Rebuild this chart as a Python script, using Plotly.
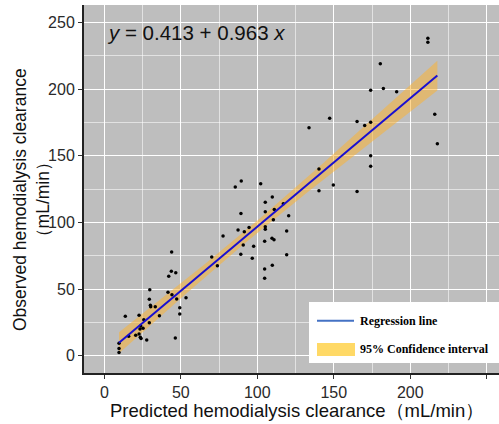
import numpy as np
import plotly.graph_objects as go

# Predicted (x) and observed (y) hemodialysis clearance, mL/min
predicted = [211.5, 211.5, 180.4, 174.1, 182.4, 191.1, 147.3, 133.8, 165.2, 170.2,
             174.1, 216.0, 217.7, 174.1, 174.1, 140.3, 149.7, 140.3, 165.2,
             89.5, 85.6, 102.2, 109.8, 105.2, 117.0, 89.3, 105.2, 111.1, 120.5, 110.5,
             94.6, 87.4, 91.5, 105.2, 105.2, 119.2, 77.6, 104.8, 109.6, 110.9,
             90.8, 97.6, 89.2, 119.2, 96.7, 70.2, 73.9, 104.8, 109.8, 104.8,
             44.0, 43.8, 46.7, 42.1, 29.7, 29.4, 41.6, 44.2, 47.3, 53.4,
             30.1, 30.3, 33.3, 49.3, 49.3, 36.0, 13.7, 22.7, 29.4, 25.8,
             25.3, 23.8, 23.3, 20.5, 22.7, 23.5, 24.0, 15.9, 27.7, 46.4,
             9.6, 9.6, 9.6]
observed = [238.0, 235.0, 219.0, 199.0, 200.4, 198.0, 178.0, 171.0, 175.7, 172.7,
            175.0, 181.0, 159.0, 150.0, 142.0, 140.0, 128.0, 123.7, 123.2,
            131.0, 126.5, 129.0, 119.0, 115.0, 114.0, 106.7, 108.0, 109.7, 105.0, 102.0,
            96.2, 94.2, 93.0, 96.7, 94.8, 93.5, 89.7, 85.8, 88.0, 87.0,
            83.0, 82.0, 76.0, 75.7, 73.0, 74.0, 67.5, 65.0, 67.8, 58.0,
            77.7, 63.3, 62.2, 59.5, 49.5, 42.3, 47.5, 45.7, 42.5, 43.5,
            37.8, 36.7, 36.7, 36.0, 31.3, 30.0, 29.5, 30.3, 24.7, 27.0,
            20.5, 22.3, 20.0, 15.3, 16.3, 13.8, 12.8, 14.5, 11.8, 13.3,
            9.3, 5.3, 2.3]

intercept = 0.413
slope = 0.963
equation_text = "<i>y</i> = 0.413 + 0.963 <i>x</i>"

x_ticks = [0, 50, 100, 150, 200, 250]
y_ticks = [0, 50, 100, 150, 200, 250]

legend_labels = ["Regression line", "95% Confidence interval"]

x_title = "Predicted hemodialysis clearance（mL/min）"
y_title = "Observed hemodialysis clearance<br>（mL/min）"

# ---- fit band (95% CI of mean) ----
xa = np.array(predicted)
ya = np.array(observed)
n = len(xa)
fit_obs = intercept + slope * xa
s = np.sqrt(np.sum((ya - fit_obs) ** 2) / (n - 2))
xbar = xa.mean()
sxx = np.sum((xa - xbar) ** 2)
xg = np.linspace(xa.min(), xa.max(), 80)
yg = intercept + slope * xg
se = s * np.sqrt(1.0 / n + (xg - xbar) ** 2 / sxx)
tval = 1.99
upper = yg + tval * se
lower = yg - tval * se

fig = go.Figure()
fig.add_trace(go.Scatter(x=np.concatenate([xg, xg[::-1]]),
                         y=np.concatenate([upper, lower[::-1]]),
                         fill="toself", fillcolor="rgba(255,178,40,0.5)",
                         line=dict(width=0), hoverinfo="skip", showlegend=False))
fig.add_trace(go.Scatter(x=predicted, y=observed, mode="markers",
                         marker=dict(color="black", size=3.5), showlegend=False))
fig.add_trace(go.Scatter(x=xg, y=yg, mode="lines",
                         line=dict(color="#1a10d0", width=2), showlegend=False))

W, H = 499, 424
ml, mr, mt, mb = 84, 0, 5, 51
pw, ph = W - ml - mr, H - mt - mb

def px(x):
    return (x - ml) / pw

def py(y):
    return (H - mb - y) / ph

# legend box (drawn as shapes)
shapes = [
    dict(type="rect", xref="paper", yref="paper", x0=px(309), x1=px(499), y0=py(363), y1=py(302),
         fillcolor="white", line=dict(width=0), layer="above"),
    dict(type="line", xref="paper", yref="paper", x0=px(317), x1=px(354), y0=py(320.7), y1=py(320.7),
         line=dict(color="#4472C4", width=2), layer="above"),
    dict(type="rect", xref="paper", yref="paper", x0=px(317), x1=px(355), y0=py(356), y1=py(343),
         fillcolor="#FFD966", line=dict(width=0), layer="above"),
]
sans = "Liberation Sans, Arial"
annotations = [
    dict(text=equation_text, xref="paper", yref="paper", x=px(105), y=py(32),
         xanchor="left", yanchor="middle", showarrow=False,
         font=dict(family=sans, size=20.5, color="#111")),
    dict(text="<b>" + legend_labels[0] + "</b>", xref="paper", yref="paper", x=px(358), y=py(320.7),
         xanchor="left", yanchor="middle", showarrow=False,
         font=dict(family="Liberation Serif, Times New Roman", size=12, color="black")),
    dict(text="<b>" + legend_labels[1] + "</b>", xref="paper", yref="paper", x=px(358), y=py(349),
         xanchor="left", yanchor="middle", showarrow=False,
         font=dict(family="Liberation Serif, Times New Roman", size=12, color="black")),
    dict(text=x_title, xref="paper", yref="paper", x=px(297), y=py(410),
         xanchor="center", yanchor="middle", showarrow=False,
         font=dict(family=sans, size=18.5, color="#111")),
    dict(text=y_title, xref="paper", yref="paper", x=px(31), y=py(200), textangle=-90,
         xanchor="center", yanchor="middle", showarrow=False,
         font=dict(family=sans, size=17.5, color="#111")),
]

axis_common = dict(
    showgrid=True, gridcolor="white", gridwidth=1.3, automargin=False,
    zeroline=False, showline=True, linecolor="#222", linewidth=2,
    ticks="outside", ticklen=4, tickcolor="#333", tickwidth=1,
    tickfont=dict(family=sans, size=16, color="#2a2a2a"),
    minor=dict(dtick=25, tick0=0, showgrid=True, gridcolor="rgba(255,255,255,0.55)", gridwidth=0.8, ticks=""),
)

fig.update_layout(
    width=W, height=H,
    margin=dict(l=ml, r=mr, t=mt, b=mb, autoexpand=False),
    paper_bgcolor="white", plot_bgcolor="#bebebe",
    showlegend=False,
    shapes=shapes, annotations=annotations,
    xaxis=dict(range=[-13.3, 258], tickvals=x_ticks, ticktext=[str(v) for v in x_ticks], **axis_common),
    yaxis=dict(range=[-13, 263], tickvals=y_ticks, ticktext=[str(v) for v in y_ticks], **axis_common),
)

fig.write_html("out.html", config={"displayModeBar": False},
               post_script="document.body.style.margin='0';document.body.style.padding='0';")
